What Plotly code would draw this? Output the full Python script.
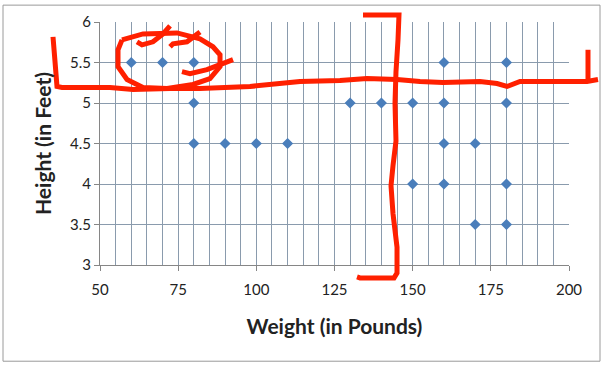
import plotly.graph_objects as go

# Data (weight in pounds, height in feet)
weights = [60, 70, 80, 80, 80, 90, 100, 110, 130, 140, 150, 160, 160, 180, 180,
           160, 170, 150, 160, 180, 170, 180]
heights = [5.5, 5.5, 5.5, 5.0, 4.5, 4.5, 4.5, 4.5, 5.0, 5.0, 5.0, 5.0, 5.5, 5.5, 5.0,
           4.5, 4.5, 4.0, 4.0, 4.0, 3.5, 3.5]
x_ticks = [50, 75, 100, 125, 150, 175, 200]
y_ticks = [3, 3.5, 4, 4.5, 5, 5.5, 6]

W, H = 604, 365
L, R, T, B = 100, 35, 20, 100
PW, PH = W - L - R, H - T - B


def px(x, y):
    return (x - L) / PW, (H - B - y) / PH


def path(points):
    s = ""
    for i, (x, y) in enumerate(points):
        u, v = px(x, y)
        s += ("M" if i == 0 else "L") + f"{u:.4f},{v:.4f} "
    return s.strip()


# hand-drawn red strokes (pixel positions on the page)
strokes = [
    [(53, 35), (55, 60), (57, 85), (62, 86), (110, 86), (133, 88), (170, 87), (200, 87),
     (250, 85), (300, 80), (340, 79), (367, 77), (397, 78), (420, 80), (443, 81),
     (480, 80), (497, 82), (507, 85), (520, 80), (560, 80), (587, 80), (598, 78)],
    [(588, 48), (588, 79)],
    [(122, 38), (143, 32), (177, 31), (200, 37), (213, 45), (220, 53), (220, 65),
     (210, 77), (193, 83), (167, 87), (143, 86), (127, 78), (118, 65), (118, 48), (122, 38)],
    [(137, 40), (142, 43), (153, 40), (163, 32), (170, 24)],
    [(170, 45), (173, 42), (187, 40), (200, 30)],
    [(182, 70), (190, 72), (207, 68), (220, 63), (233, 58)],
    [(363, 13), (399, 13), (398, 38), (396, 70), (395, 102), (396, 140), (393, 165),
     (391, 185), (393, 213), (397, 247), (397, 273), (394, 278), (360, 278), (357, 277)],
]

shapes = [dict(type="path", xref="paper", yref="paper", path=path(s),
               line=dict(color="rgb(255,32,0)", width=5), layer="above")
          for s in strokes]

bx0, by0 = px(3, 362)
bx1, by1 = px(600, 3)
shapes.insert(0, dict(type="rect", xref="paper", yref="paper", x0=bx0, y0=by0,
                      x1=bx1, y1=by1, line=dict(color="#9a9a9a", width=1),
                      layer="below"))

fig = go.Figure(go.Scatter(
    x=weights, y=heights, mode="markers",
    marker=dict(symbol="diamond", size=8.5, color="#4a7ebb", line=dict(width=0)),
))

grid = "#8a9bad"
fig.update_layout(
    width=W, height=H,
    margin=dict(l=L, r=R, t=T, b=B),
    paper_bgcolor="white", plot_bgcolor="white",
    showlegend=False,
    font=dict(family="Lato, Carlito, Liberation Sans, sans-serif", color="#222"),
    shapes=shapes,
    xaxis=dict(
        range=[50, 200], tickvals=x_ticks, ticktext=[str(v) for v in x_ticks],
        showgrid=True, gridcolor=grid, gridwidth=1,
        minor=dict(dtick=5, tick0=50, showgrid=True, gridcolor=grid, gridwidth=1),
        ticks="outside", ticklen=5, tickcolor="#868686",
        showline=True, linecolor="#868686", linewidth=1,
        zeroline=False, tickfont=dict(size=15), ticklabelstandoff=6,
        title=dict(text="<b>Weight (in Pounds)</b>", font=dict(size=21), standoff=22),
    ),
    yaxis=dict(
        range=[3, 6], tickvals=y_ticks, ticktext=["3", "3.5", "4", "4.5", "5", "5.5", "6"],
        showgrid=True, gridcolor=grid, gridwidth=1,
        ticks="outside", ticklen=5, tickcolor="#868686",
        showline=True, linecolor="#868686", linewidth=1,
        zeroline=False, tickfont=dict(size=15),
        title=dict(text="<b>Height (in Feet)</b>", font=dict(size=21), standoff=12),
    ),
)

fig.write_html("out.html", config={"displayModeBar": False},
               post_script="document.body.style.margin='0';")
